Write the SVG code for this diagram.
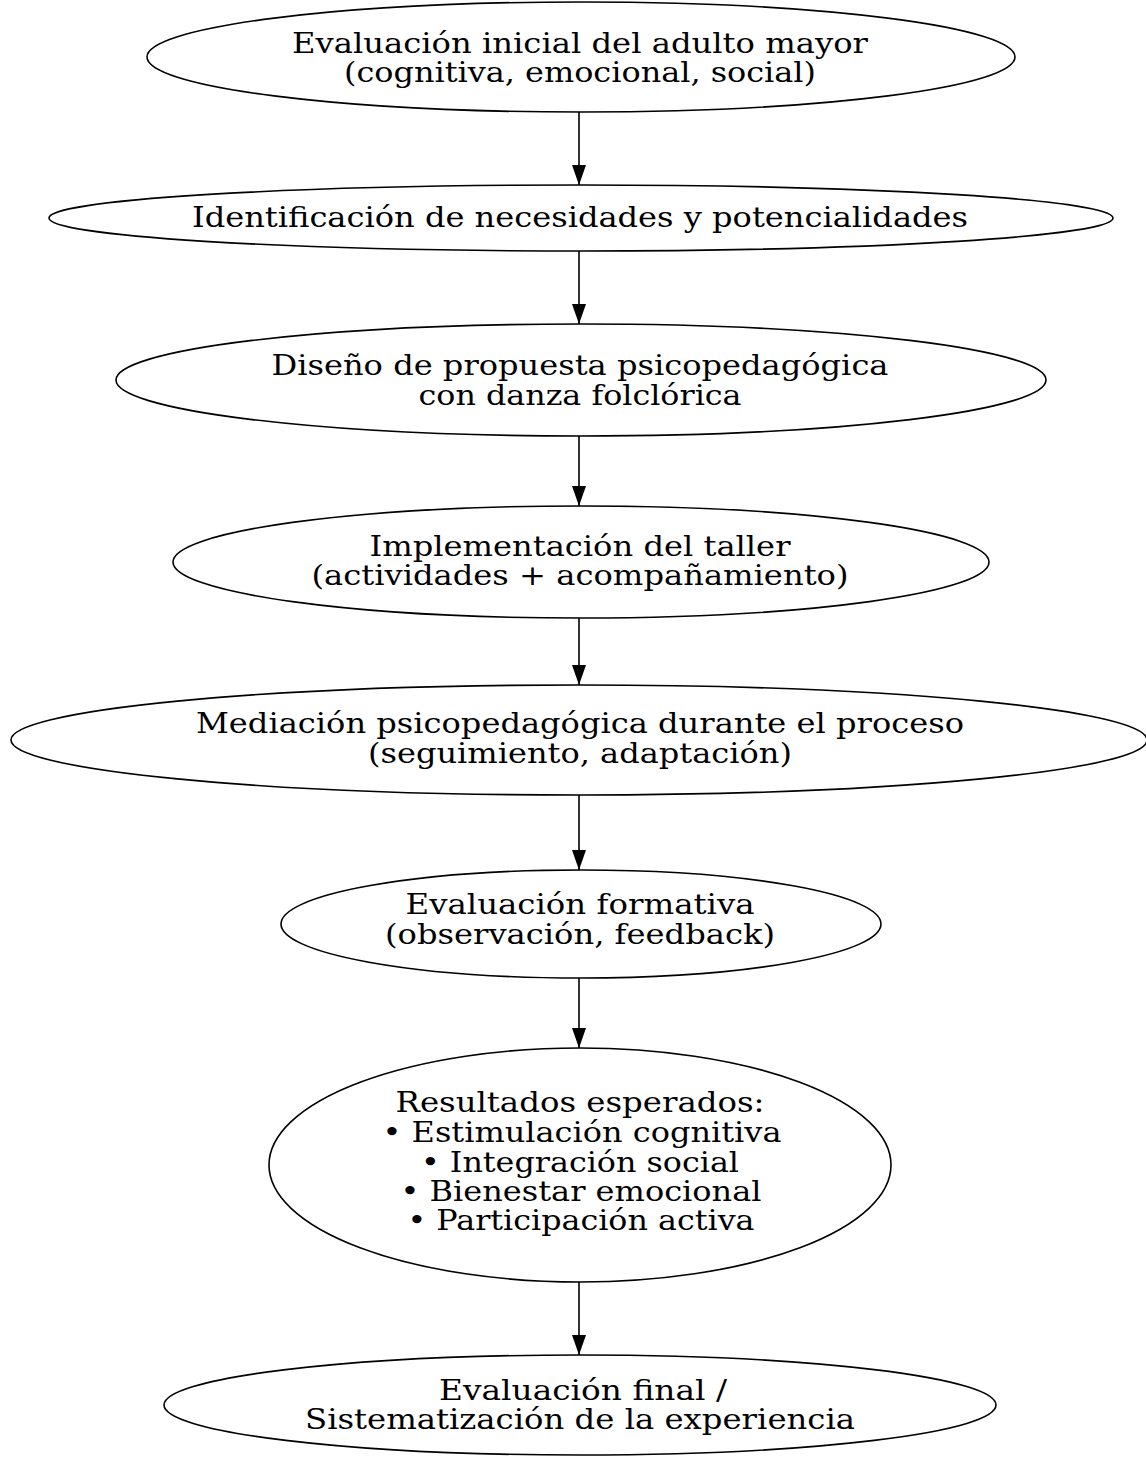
<svg xmlns="http://www.w3.org/2000/svg" width="1146" height="1457" viewBox="0 0 1146 1457">
<defs>
<style>
.n ellipse{fill:#fff;stroke:#000;stroke-width:1.6}
.n text{font-family:"DejaVu Serif",serif;font-size:27px;text-anchor:middle;fill:#000}
.e line{stroke:#000;stroke-width:1.6}
</style>
<marker id="ah" markerWidth="20" markerHeight="14" refX="20" refY="7" orient="auto" markerUnits="userSpaceOnUse" viewBox="0 0 20 14">
<path d="M0,0 L20,7 L0,14 Z" fill="#000"/>
</marker>
</defs>
<rect width="1146" height="1457" fill="#fff"/>
<g class="e">
<line x1="579" y1="112" x2="579" y2="185" marker-end="url(#ah)"/>
<line x1="579" y1="251" x2="579" y2="324" marker-end="url(#ah)"/>
<line x1="579" y1="436" x2="579" y2="506" marker-end="url(#ah)"/>
<line x1="579" y1="618" x2="579" y2="685" marker-end="url(#ah)"/>
<line x1="579" y1="795" x2="579" y2="870" marker-end="url(#ah)"/>
<line x1="579" y1="978" x2="579" y2="1048" marker-end="url(#ah)"/>
<line x1="579" y1="1282" x2="579" y2="1355" marker-end="url(#ah)"/>
</g>
<g id="n1" class="n">
<ellipse cx="581" cy="57" rx="434" ry="55"/>
<text x="580" y="53" textLength="576" lengthAdjust="spacingAndGlyphs">Evaluación inicial del adulto mayor</text>
<text x="580" y="82" textLength="472" lengthAdjust="spacingAndGlyphs">(cognitiva, emocional, social)</text>
</g>
<g id="n2" class="n">
<ellipse cx="581" cy="218" rx="532" ry="33"/>
<text x="580" y="227" textLength="776" lengthAdjust="spacingAndGlyphs">Identificación de necesidades y potencialidades</text>
</g>
<g id="n3" class="n">
<ellipse cx="581" cy="380" rx="465" ry="56"/>
<text x="580" y="375" textLength="617" lengthAdjust="spacingAndGlyphs">Diseño de propuesta psicopedagógica</text>
<text x="580" y="405" textLength="323" lengthAdjust="spacingAndGlyphs">con danza folclórica</text>
</g>
<g id="n4" class="n">
<ellipse cx="581" cy="562" rx="408" ry="56"/>
<text x="580" y="556" textLength="421" lengthAdjust="spacingAndGlyphs">Implementación del taller</text>
<text x="580" y="585" textLength="537" lengthAdjust="spacingAndGlyphs">(actividades + acompañamiento)</text>
</g>
<g id="n5" class="n">
<ellipse cx="579" cy="740" rx="568" ry="55"/>
<text x="580" y="733" textLength="768" lengthAdjust="spacingAndGlyphs">Mediación psicopedagógica durante el proceso</text>
<text x="580" y="763" textLength="424" lengthAdjust="spacingAndGlyphs">(seguimiento, adaptación)</text>
</g>
<g id="n6" class="n">
<ellipse cx="581" cy="924" rx="300" ry="54"/>
<text x="580" y="914" textLength="349" lengthAdjust="spacingAndGlyphs">Evaluación formativa</text>
<text x="580" y="944" textLength="390" lengthAdjust="spacingAndGlyphs">(observación, feedback)</text>
</g>
<g id="n7" class="n">
<ellipse cx="580" cy="1165" rx="311" ry="117"/>
<text x="580" y="1112" textLength="369" lengthAdjust="spacingAndGlyphs">Resultados esperados:</text>
<text x="582" y="1142" textLength="399" lengthAdjust="spacingAndGlyphs">• Estimulación cognitiva</text>
<text x="580" y="1172" textLength="318" lengthAdjust="spacingAndGlyphs">• Integración social</text>
<text x="581" y="1201" textLength="361" lengthAdjust="spacingAndGlyphs">• Bienestar emocional</text>
<text x="581" y="1230" textLength="347" lengthAdjust="spacingAndGlyphs">• Participación activa</text>
</g>
<g id="n8" class="n">
<ellipse cx="580" cy="1405" rx="416" ry="50"/>
<text x="583" y="1400" textLength="288" lengthAdjust="spacingAndGlyphs">Evaluación final /</text>
<text x="580" y="1429" textLength="550" lengthAdjust="spacingAndGlyphs">Sistematización de la experiencia</text>
</g>
</svg>
